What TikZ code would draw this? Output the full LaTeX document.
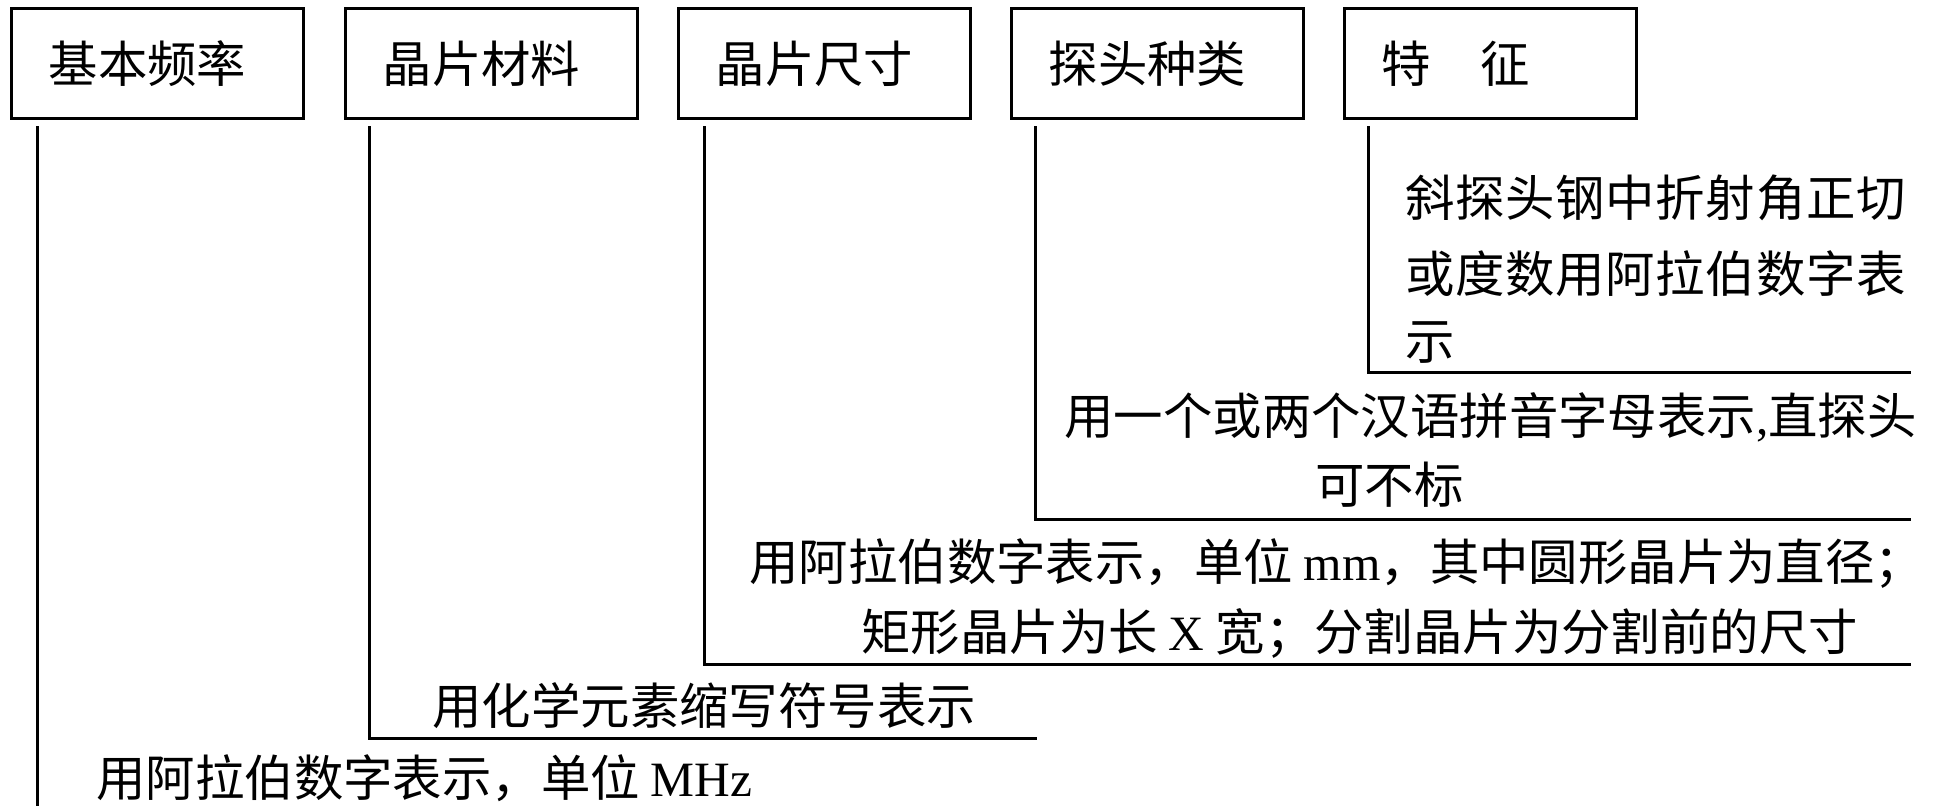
\documentclass[tikz,border=0pt]{standalone}
\usepackage{fontspec}
\setmainfont{Liberation Serif}
\newfontfamily\cjk{Noto Sans CJK SC}
\newfontfamily\cjkwide[LetterSpace=1.4]{Noto Sans CJK SC}
\newcommand\dgfont{\cjk\fontsize{24.7}{30}\selectfont}
\newcommand\dgwide{\cjkwide\fontsize{24.7}{30}\selectfont}
\begin{document}
\begin{tikzpicture}[x=0.5pt,y=-0.5pt,
  box/.style={draw,line width=1.7pt,minimum height=55pt,text width=109pt,
    inner xsep=18.5pt,inner ysep=0pt,align=left,anchor=north west,font=\dgfont},
  lbl/.style={anchor=west,inner sep=0pt,font=\dgfont},
  conn/.style={line width=1.5pt}]
\useasboundingbox (0,0) rectangle (1936,806);
% header boxes
\node[box] (b1) at (10,7) {基本频率};
\node[box] (b2) at (344,7) {晶片材料};
\node[box] (b3) at (677,7) {晶片尺寸};
\node[box] (b4) at (1010,7) {探头种类};
\node[box] (b5) at (1343,7) {特　征};
% connector starts
\coordinate (s1) at ([xshift=13.5pt,yshift=-3pt]b1.south west);
\coordinate (s2) at ([xshift=12.5pt,yshift=-3pt]b2.south west);
\coordinate (s3) at ([xshift=13.5pt,yshift=-3pt]b3.south west);
\coordinate (s4) at ([xshift=12.5pt,yshift=-3pt]b4.south west);
\coordinate (s5) at ([xshift=12.5pt,yshift=-3pt]b5.south west);
% connector ends
\coordinate (e1) at (37,806);
\coordinate (e2) at (1037,738);
\coordinate (e3) at (1911,664);
\coordinate (e4) at (1911,519);
\coordinate (e5) at (1911,373);
\draw[conn] (s1) -- (s1 |- e1);
\draw[conn] (s2) |- (e2);
\draw[conn] (s3) |- (e3);
\draw[conn] (s4) |- (e4);
\draw[conn] (s5) |- (e5);
% labels
\node[lbl,font=\dgwide] (t5a) at (1405,198) {斜探头钢中折射角正切};
\node[lbl,font=\dgwide] (t5b) at (1405,274) {或度数用阿拉伯数字表};
\node[lbl] (t5c) at (1405,343) {示};
\node[lbl] (t4a) at (1064,417) {用一个或两个汉语拼音字母表示\textrm{,}直探头};
\node[lbl] (t4b) at (1315,485) {可不标};
\node[lbl] (t3a) at (749,564) {用阿拉伯数字表示，单位 \textrm{mm}，其中圆形晶片为直径；};
\node[lbl] (t3b) at (861,633) {矩形晶片为长 \textrm{X} 宽；分割晶片为分割前的尺寸};
\node[lbl] (t2) at (432,706) {用化学元素缩写符号表示};
\node[lbl] (t1) at (96,778) {用阿拉伯数字表示，单位 \textrm{MHz}};
\end{tikzpicture}
\end{document}
